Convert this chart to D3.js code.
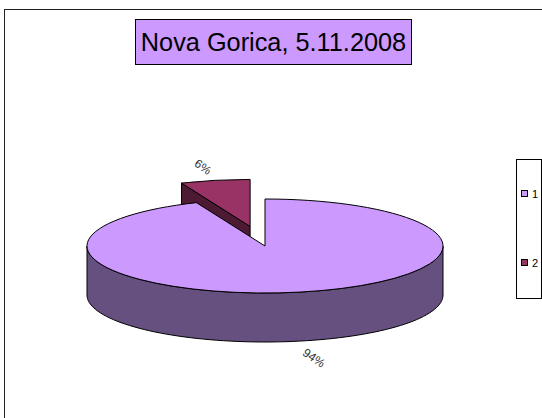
<!DOCTYPE html>
<html><head><meta charset="utf-8">
<script src="https://cdn.jsdelivr.net/npm/d3@7"></script>
<style>html,body{margin:0;padding:0;background:#fff;overflow:hidden}svg{display:block}text{font-family:"Liberation Sans",Arial,sans-serif;fill:#000}</style>
</head><body><svg id="c" width="542" height="418"></svg>
<script>
const title = "Nova Gorica, 5.11.2008";
const categories = ["1", "2"];
const values = [93.7, 6.3];
const labels = ["94%", "6%"];
const topColors = ["#CC99FF", "#993366"];
const sideColors = ["#665080", "#4D1A33"];

const svg = d3.select("#c");
const cx = 265, cy = 246, rx = 178, ry = 47, depth = 49, explode = 0.425;
const line = "#000";

svg.append("rect").attr("x",4.5).attr("y",9.5).attr("width",560).attr("height",430)
  .attr("fill","#fff").attr("stroke","#222").attr("stroke-width",1);

const pie = d3.pie().sort(null).startAngle(0).endAngle(2*Math.PI);
const arcs = pie(values);
const px = d3.scaleLinear().domain([0,1]).range([0,rx]);
const py = d3.scaleLinear().domain([0,1]).range([0,ry]);
const pt = (a,r=1)=>[px(Math.sin(a)*r), -py(Math.cos(a)*r)];
const arcGen = d3.arc().innerRadius(0).outerRadius(rx);

function offset(i){
  if(i===0) return [0,0];
  const mid=(arcs[i].startAngle+arcs[i].endAngle)/2;
  return pt(mid,explode);
}
function sidePath(a0,a1){
  const n=80, pts=d3.range(n+1).map(k=>a0+(a1-a0)*k/n);
  return d3.area().x(a=>pt(a)[0]).y0(a=>pt(a)[1]).y1(a=>pt(a)[1]+depth)(pts);
}
function drawSlice(i){
  const [ox,oy]=offset(i), d=arcs[i];
  const g=svg.append("g").attr("transform",`translate(${cx+ox},${cy+oy})`);
  if(i===0){
    const a0=Math.max(d.startAngle,Math.PI/2), a1=Math.min(d.endAngle,3*Math.PI/2);
    g.append("path").attr("d",sidePath(a0,a1)).attr("fill",sideColors[i]).attr("stroke",line).attr("stroke-width",1);
  } else {
    const p=pt(d.startAngle);
    const f=[[0,0],p,[p[0],p[1]+depth],[0,depth]];
    g.append("path").attr("d",d3.line()(f)+"Z").attr("fill",sideColors[i]).attr("stroke",line).attr("stroke-width",1);
  }
  g.append("g").attr("transform",`scale(1,${ry/rx})`).append("path")
    .attr("d",arcGen({startAngle:d.startAngle,endAngle:d.endAngle}))
    .attr("fill",topColors[i]).attr("stroke",line).attr("stroke-width",1)
    .attr("vector-effect","non-scaling-stroke");
}
drawSlice(1);
drawSlice(0);

const labelPos=[[314,358],[203,167]];
labels.forEach((t,i)=>{
  svg.append("text").attr("transform",`translate(${labelPos[i][0]},${labelPos[i][1]}) rotate(35)`)
   .attr("text-anchor","middle").attr("dominant-baseline","central").attr("font-size",12).style("fill","#333").text(t);
});

svg.append("rect").attr("x",135.5).attr("y",19.5).attr("width",276).attr("height",45)
  .attr("fill","#CC99FF").attr("stroke","#000");
svg.append("text").attr("x",273.5).attr("y",51).attr("text-anchor","middle").attr("font-size",25.3).text(title);

svg.append("rect").attr("x",516.5).attr("y",159.5).attr("width",25).attr("height",139).attr("fill","#fff").attr("stroke","#000");
const ly=d3.scalePoint().domain(categories).range([194,262.5]);
categories.forEach((c,i)=>{
  svg.append("rect").attr("x",521.5).attr("y",Math.round(ly(c))-3.5).attr("width",6).attr("height",6)
    .attr("fill",topColors[i]).attr("stroke","#000");
  svg.append("text").attr("x",532).attr("y",ly(c)+4).attr("font-size",11).text(c);
});
</script></body></html>
